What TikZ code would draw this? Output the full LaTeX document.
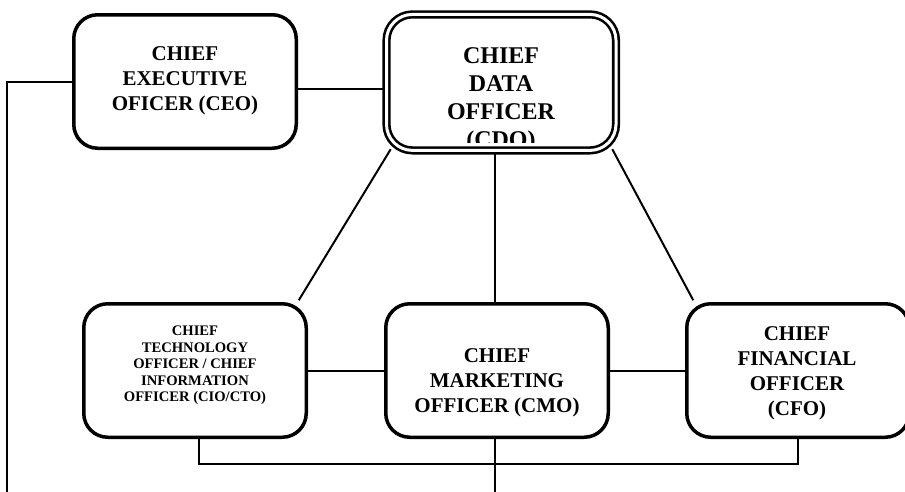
\documentclass[tikz,border=0pt]{standalone}
\usepackage{fontspec}
\setmainfont{Liberation Serif}
\usetikzlibrary{calc}
\begin{document}
\begin{tikzpicture}[x=1pt,y=-1pt,
  officebox/.style={draw=black, line width=3.5pt, fill=white, rounded corners=24pt,
    minimum width=222.5pt, minimum height=133.5pt, inner sep=0pt},
  cdobox/.style={draw=black, line width=2.6pt, double=white, double distance=3pt,
    rounded corners=26pt, minimum width=229.5pt, minimum height=136pt, inner sep=0pt},
  link/.style={draw=black, line width=2pt},
  title/.style={align=center, font=\bfseries\fontsize{21}{25}\selectfont, inner sep=0pt},
  smalltitle/.style={align=center, font=\bfseries\fontsize{14.6}{16.5}\selectfont, inner sep=0pt},
  bigtitle/.style={align=center, font=\bfseries\fontsize{24}{27.8}\selectfont, inner sep=0pt}]
\useasboundingbox (0,0) rectangle (905,491);

% box positions
\coordinate (ceo-c) at (185,81.5);
\coordinate (cdo-c) at (501.25,82.4);
\coordinate (cto-c) at (195,370.5);
\coordinate (cmo-c) at (497,370.5);
\coordinate (cfo-c) at (798,370.5);

% box outlines used as anchors
\node[officebox, draw=none, fill=none] (ceo) at (ceo-c) {};
\node[cdobox, draw=none, double=none] (cdo) at (cdo-c) {};
\node[officebox, draw=none, fill=none] (cto) at (cto-c) {};
\node[officebox, draw=none, fill=none] (cmo) at (cmo-c) {};
\node[officebox, draw=none, fill=none] (cfo) at (cfo-c) {};

% end points of the connectors
\coordinate (ceo-out) at ($(ceo.east)+(0,7.5)$);
\coordinate (cdo-in) at (ceo-out -| cdo.west);
\coordinate (cmo-top) at ($(cmo.north)+(-2,0)$);
\coordinate (cdo-bot) at (cmo-top |- cdo.south);
\coordinate (cmo-bot) at ($(cmo.south)+(-2,0)$);
\coordinate (leftdrop) at (7,495);
\coordinate (middrop) at (cmo-bot |- leftdrop);

% connectors
\draw[link] ($(ceo.west)+(0,0.5)$) -| (leftdrop);
\draw[link] (ceo-out) -- (cdo-in);
\draw[link] ($(cdo.south west)+(5.5,-2.5)$) -- ($(cto.north east)+(-9.25,-1.75)$);
\draw[link] ($(cdo.south east)+(-5,-2.5)$) -- ($(cfo.north west)+(8.25,-1.75)$);
\draw[link] (cmo-top) -- (cdo-bot);
\draw[link] (cmo-bot) -- (middrop);
\draw[link] (cto.east) -- (cmo.west);
\draw[link] (cmo.east) -- (cfo.west);
\draw[link] ($(cto.south)+(4,0)$) -- ++(0,25) -| (cfo.south);

% visible frames
\node[officebox] (ceo-box) at (ceo-c) {};
\node[cdobox, fill=white] (cdo-box) at (cdo-c) {};
\node[officebox] (cto-box) at (cto-c) {};
\node[officebox] (cmo-box) at (cmo-c) {};
\node[officebox] (cfo-box) at (cfo-c) {};

% titles
\node[title] (ceo-t) at (185,81) {CHIEF\\EXECUTIVE\\OFICER (CEO)};
\begin{scope}
  \clip (386.5,14.3) rectangle (616,142.5);
  \node[bigtitle] (cdo-t) at (501,100) {CHIEF\\DATA\\OFFICER\\(CDO)};
\end{scope}
\node[smalltitle] (cto-t) at (195,365.5) {CHIEF\\TECHNOLOGY\\OFFICER / CHIEF\\INFORMATION\\OFFICER (CIO/CTO)};
\node[title] (cmo-t) at (497,383) {CHIEF\\MARKETING\\OFFICER (CMO)};
\node[title] (cfo-t) at (797,373.5) {CHIEF\\FINANCIAL\\OFFICER\\(CFO)};
\end{tikzpicture}
\end{document}
